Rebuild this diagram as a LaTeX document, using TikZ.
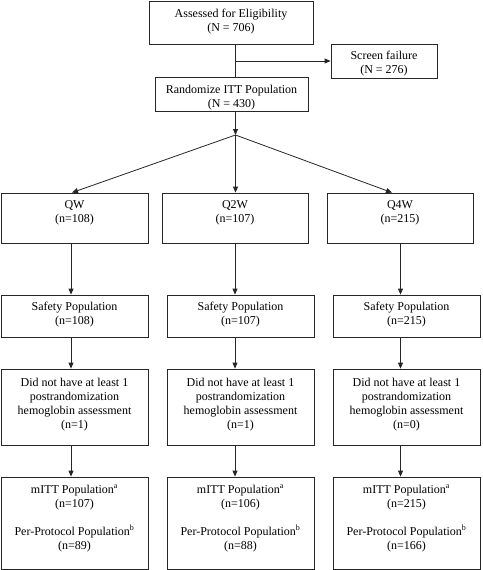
\documentclass[tikz,border=0pt]{standalone}
\usepackage{fontspec}
\setmainfont{Liberation Serif}
\usetikzlibrary{arrows.meta}
\begin{document}
\begin{tikzpicture}[x=1pt,y=-1pt,
 box/.style={draw=black!85, line width=0.8pt, inner sep=0pt, align=center, anchor=base, font=\fontsize{12}{14}\selectfont},
 arr/.style={draw=black!85, line width=0.8pt, -{Triangle[length=6pt,width=5pt]}},
 link/.style={draw=black!85, line width=0.8pt}]
\useasboundingbox (0,0) rectangle (482,570);
% top part
\node[box, minimum width=164, text height=30, text depth=13] (elig) at (231,31) {Assessed for Eligibility\\(N = 706)};
\node[box, minimum width=106, text height=29, text depth=5] (screen) at (384,73) {Screen failure\\(N = 276)};
\node[box, minimum width=153, text height=30, text depth=4] (rand) at (231.5,107) {Randomize ITT Population\\(N = 430)};
% arms
\node[box, minimum width=147, text height=29, text depth=21] (q1) at (74.5,222) {QW\\(n=108)};
\node[box, minimum width=146, text height=29, text depth=21] (q2) at (235,222) {Q2W\\(n=107)};
\node[box, minimum width=146, text height=29, text depth=21] (q3) at (400,222) {Q4W\\(n=215)};
% safety
\node[box, minimum width=147, text height=29, text depth=13] (s1) at (74.5,324) {Safety Population\\(n=108)};
\node[box, minimum width=147, text height=29, text depth=13] (s2) at (240.5,324) {Safety Population\\(n=107)};
\node[box, minimum width=147, text height=29, text depth=13] (s3) at (406.5,324) {Safety Population\\(n=215)};
% did not have
\node[box, minimum width=147, text height=59, text depth=17] (d1) at (74.5,428) {Did not have at least 1\\postrandomization\\hemoglobin assessment\\(n=1)};
\node[box, minimum width=147, text height=59, text depth=17] (d2) at (240.5,428) {Did not have at least 1\\postrandomization\\hemoglobin assessment\\(n=1)};
\node[box, minimum width=147, text height=59, text depth=17] (d3) at (406.5,428) {Did not have at least 1\\postrandomization\\hemoglobin assessment\\(n=0)};
% mITT
\node[box, minimum width=147, text height=72, text depth=20] (m1) at (74.5,549) {mITT Population\textsuperscript{a}\\(n=107)\\[14pt]Per-Protocol Population\textsuperscript{b}\\(n=89)};
\node[box, minimum width=147, text height=72, text depth=20] (m2) at (240.5,549) {mITT Population\textsuperscript{a}\\(n=106)\\[14pt]Per-Protocol Population\textsuperscript{b}\\(n=88)};
\node[box, minimum width=147, text height=72, text depth=20] (m3) at (406.5,549) {mITT Population\textsuperscript{a}\\(n=215)\\[14pt]Per-Protocol Population\textsuperscript{b}\\(n=166)};
% coordinates
\coordinate (apex) at (235.5,135);
\coordinate (t1) at (72,0);
\coordinate (t3) at (392,0);
\coordinate (c1) at (71,0);
\coordinate (c2) at (235,0);
\coordinate (c3) at (400.5,0);
% connectors
\draw[link] (elig.south -| apex) -- (rand.north -| apex);
\draw[arr] (screen.west -| apex) -- (screen.west);
\draw[arr] (rand.south -| apex) -- (apex);
\draw[arr] (apex) -- (q1.north -| t1);
\draw[arr] (apex) -- (q2.north -| apex);
\draw[arr] (apex) -- (q3.north -| t3);
\draw[arr] (q1.south -| c1) -- (s1.north -| c1);
\draw[arr] (q2.south -| c2) -- (s2.north -| c2);
\draw[arr] (q3.south -| c3) -- (s3.north -| c3);
\draw[arr] (s1.south -| c1) -- (d1.north -| c1);
\draw[arr] (s2.south -| c2) -- (d2.north -| c2);
\draw[arr] (s3.south -| c3) -- (d3.north -| c3);
\draw[arr] (d1.south -| c1) -- (m1.north -| c1);
\draw[arr] (d2.south -| c2) -- (m2.north -| c2);
\draw[arr] (d3.south -| c3) -- (m3.north -| c3);
\end{tikzpicture}
\end{document}
